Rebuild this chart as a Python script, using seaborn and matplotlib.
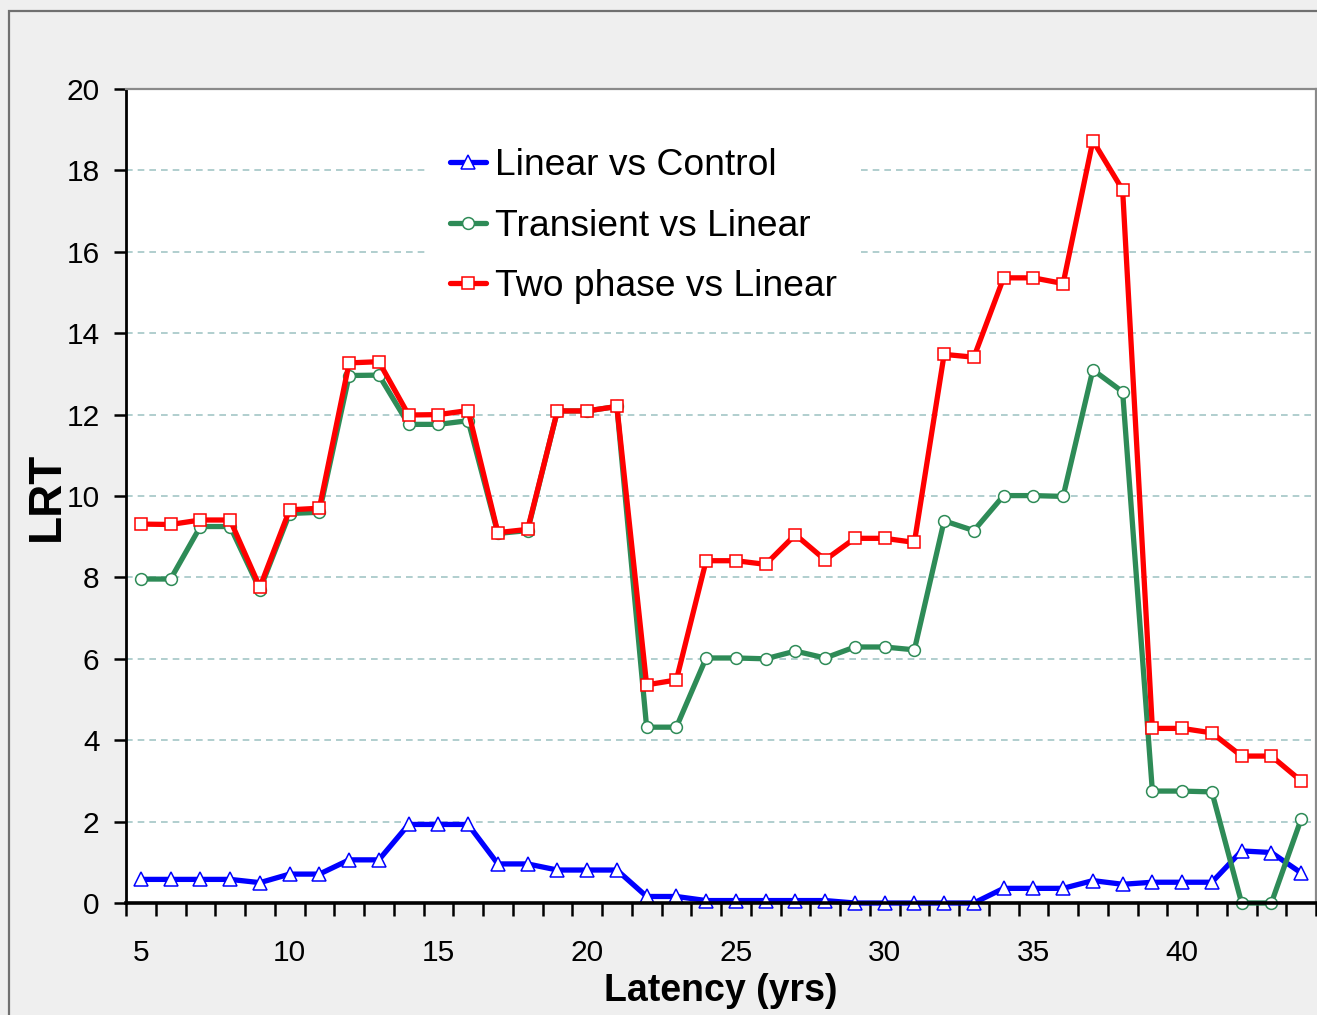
import matplotlib
matplotlib.use("Agg")
import matplotlib.pyplot as plt
import numpy as np
import seaborn as sns
from matplotlib.patches import Rectangle

latency = list(range(5, 45))

linear_vs_control = [0.58, 0.58, 0.58, 0.58, 0.50, 0.71, 0.71, 1.06, 1.06, 1.93,
                     1.93, 1.93, 0.96, 0.96, 0.81, 0.81, 0.81, 0.16, 0.16, 0.06,
                     0.06, 0.06, 0.06, 0.06, 0.00, 0.00, 0.00, 0.00, 0.00, 0.36,
                     0.36, 0.36, 0.55, 0.46, 0.51, 0.51, 0.51, 1.28, 1.24, 0.74]

transient_vs_linear = [7.96, 7.96, 9.25, 9.25, 7.70, 9.57, 9.60, 12.96, 12.97, 11.76,
                       11.76, 11.85, 9.08, 9.15, 12.09, 12.09, 12.20, 4.32, 4.32, 6.02,
                       6.02, 6.00, 6.19, 6.02, 6.29, 6.29, 6.22, 9.39, 9.15, 10.01,
                       10.01, 9.99, 13.10, 12.56, 2.75, 2.75, 2.73, 0.00, 0.00, 2.06]

two_phase_vs_linear = [9.31, 9.30, 9.41, 9.41, 7.76, 9.66, 9.70, 13.27, 13.30, 11.99,
                       12.00, 12.10, 9.10, 9.18, 12.09, 12.09, 12.20, 5.36, 5.48, 8.41,
                       8.41, 8.32, 9.05, 8.43, 8.96, 8.96, 8.86, 13.48, 13.41, 15.36,
                       15.36, 15.22, 18.73, 17.52, 4.29, 4.29, 4.18, 3.61, 3.61, 3.00]

series_names = ["Linear vs Control", "Transient vs Linear", "Two phase vs Linear"]
x_label_ticks = [5, 10, 15, 20, 25, 30, 35, 40]
y_ticks = list(range(0, 21, 2))

sns.set_style("white")
plt.rcParams["font.family"] = ["Liberation Sans", "DejaVu Sans"]
plt.rcParams.update({
    "text.color": "black",
    "axes.labelcolor": "black",
    "xtick.color": "black",
    "ytick.color": "black",
})

fig = plt.figure(figsize=(13.17, 10.15), dpi=100, facecolor="#efefef")
ax = fig.add_axes([126 / 1317, 112 / 1015, 1190 / 1317, 814 / 1015])
ax.set_facecolor("white")

# outer chart border (only top/left visible in the original)
fig.patches.append(Rectangle((9 / 1317, -0.05), 1.2, (1015 - 11) / 1015 + 0.05,
                             transform=fig.transFigure, fill=False,
                             edgecolor="#707070", lw=1.6))

styles = [
    (linear_vs_control, "#0000ff", "^", 9.5),
    (transient_vs_linear, "#2e8b57", "o", 8.5),
    (two_phase_vs_linear, "#ff0000", "s", 8.5),
]
for (vals, color, marker, msize), name in zip(styles, series_names):
    sns.lineplot(x=latency, y=vals, ax=ax, color=color, linewidth=3.8,
                 marker=marker, markersize=msize, markerfacecolor="white",
                 markeredgecolor=color, markeredgewidth=1.1, clip_on=False,
                 label=name)

ax.set_xlim(4.5, 44.5)
ax.set_ylim(0, 20)
ax.set_yticks(y_ticks)
ax.set_xticks(x_label_ticks)
ax.set_xticks(np.arange(4.5, 45, 1), minor=True)

ax.grid(axis="y", color="#a3c6c6", linestyle=(0, (4, 3)), linewidth=1.2)
ax.set_axisbelow(True)

ax.tick_params(axis="y", direction="out", length=9, width=1.8, labelsize=21.5,
               pad=10, left=True, colors="black")
ax.tick_params(axis="x", which="major", length=0, labelsize=21.5, pad=26,
               colors="black")
ax.tick_params(axis="x", which="minor", direction="out", length=9, width=1.8,
               bottom=True, color="black")

for side in ["left", "bottom"]:
    ax.spines[side].set_color("black")
ax.spines["left"].set_linewidth(2)
ax.spines["bottom"].set_linewidth(2.6)
for side in ["top", "right"]:
    ax.spines[side].set_color("#8a8a8a")
    ax.spines[side].set_linewidth(1.6)

ax.set_xlabel("Latency (yrs)", fontsize=27, fontweight="bold", labelpad=4,
              color="black")
ax.set_ylabel("LRT", fontsize=33, fontweight="bold", labelpad=-2, color="black")

leg = ax.legend(loc="upper left", bbox_to_anchor=((428 - 126) / 1190, (903 - 126) / 814),
                borderaxespad=0, frameon=True, fancybox=False, framealpha=1,
                facecolor="white", edgecolor="none", fontsize=26.8,
                handlelength=0.95, handletextpad=0.25, labelspacing=0.68,
                borderpad=0.6)
for text in leg.get_texts():
    text.set_color("black")

fig.savefig("out.png", dpi=100, facecolor=fig.get_facecolor())
